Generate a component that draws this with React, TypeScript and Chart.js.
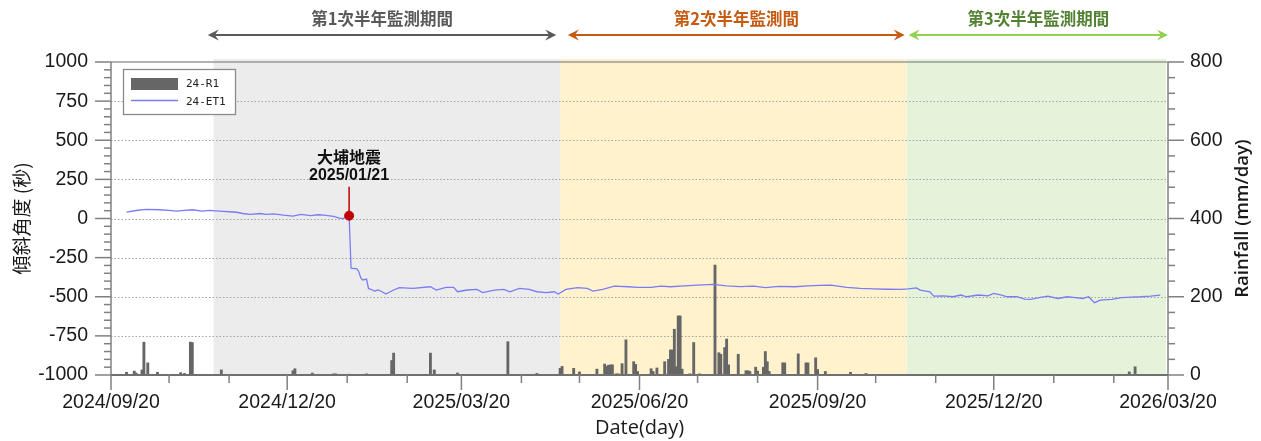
import React, { useEffect, useRef } from 'react';
import { Chart, registerables } from 'chart.js';
Chart.register(...registerables);

const W = 1261;
const H = 441;
const DAY_MS = 86400000;
const toDay = (s: string) => {
  const [y, m, d] = s.split(/[-/]/).map(Number);
  return Date.UTC(y, m - 1, d) / DAY_MS;
};

// ---------- axes ----------
const xStart = '2024-09-20';
const xEnd = '2026-03-20';
const xTickLabels = ['2024/09/20', '2024/12/20', '2025/03/20', '2025/06/20', '2025/09/20', '2025/12/20', '2026/03/20'];
const leftTicks = [-1000, -750, -500, -250, 0, 250, 500, 750, 1000];
const rightTicks = [0, 200, 400, 600, 800];
const leftMinorStep = 50;
const rightMinorStep = 40;

// ---------- rainfall 24-R1 (mm/day) ----------
const rainDates = [
  '2024-09-28', '2024-10-02', '2024-10-03', '2024-10-06', '2024-10-07', '2024-10-09', '2024-10-14', '2024-10-26', '2024-10-28', '2024-10-31', '2024-11-01', '2024-11-16', '2024-12-23', '2024-12-24',
  '2025-01-02', '2025-01-13', '2025-01-14', '2025-01-21', '2025-01-30', '2025-02-12', '2025-02-13', '2025-03-04', '2025-03-06', '2025-03-18', '2025-04-13', '2025-04-28',
  '2025-05-10', '2025-05-11', '2025-05-17', '2025-05-20', '2025-05-29', '2025-06-02', '2025-06-03', '2025-06-04', '2025-06-05', '2025-06-06', '2025-06-08', '2025-06-09', '2025-06-11', '2025-06-13', '2025-06-17', '2025-06-18', '2025-06-19', '2025-06-26', '2025-06-27', '2025-06-29',
  '2025-07-03', '2025-07-05', '2025-07-06', '2025-07-07', '2025-07-08', '2025-07-09', '2025-07-10', '2025-07-11', '2025-07-12', '2025-07-16', '2025-07-18', '2025-07-21', '2025-07-29', '2025-07-31',
  '2025-08-01', '2025-08-03', '2025-08-04', '2025-08-05', '2025-08-10', '2025-08-14', '2025-08-15', '2025-08-16', '2025-08-19', '2025-08-20', '2025-08-23', '2025-08-24', '2025-08-25', '2025-08-26',
  '2025-09-02', '2025-09-03', '2025-09-10', '2025-09-14', '2025-09-15', '2025-09-19', '2025-09-20', '2025-09-24', '2025-10-07', '2025-10-15', '2026-01-13', '2026-02-28', '2026-03-03',
];
const rainValues = [
  7, 10, 5, 13, 84, 31, 7, 6, 4, 84, 83, 13, 11, 16,
  5, 3, 3, 2, 3, 37, 56, 56, 13, 5, 85, 4,
  17, 22, 17, 8, 15, 28, 22, 25, 26, 26, 3, 3, 29, 90, 34, 27, 9, 16, 9, 18,
  34, 40, 64, 64, 117, 21, 151, 151, 15, 3, 83, 3, 281, 57,
  53, 70, 92, 26, 53, 11, 11, 9, 20, 10, 20, 60, 34, 9,
  31, 31, 54, 31, 31, 44, 14, 9, 7, 4, 1, 8, 21,
];

// ---------- tilt 24-ET1 (seconds) ----------
const etDates = [
  '2024-09-28', '2024-10-03', '2024-10-08', '2024-10-15', '2024-10-20', '2024-10-24', '2024-10-28', '2024-11-01', '2024-11-06', '2024-11-10', '2024-11-13', '2024-11-17', '2024-11-20', '2024-11-24', '2024-11-27', '2024-12-01', '2024-12-06', '2024-12-09', '2024-12-13', '2024-12-18', '2024-12-23', '2024-12-27',
  '2025-01-01', '2025-01-05', '2025-01-08', '2025-01-13', '2025-01-16', '2025-01-18', '2025-01-21', '2025-01-22', '2025-01-25', '2025-01-26', '2025-01-27', '2025-01-28', '2025-01-30', '2025-01-31', '2025-02-02', '2025-02-03', '2025-02-05', '2025-02-07', '2025-02-09', '2025-02-13', '2025-02-16', '2025-02-23',
  '2025-03-04', '2025-03-07', '2025-03-12', '2025-03-16', '2025-03-18', '2025-03-23', '2025-03-28', '2025-03-31', '2025-04-06', '2025-04-11', '2025-04-14', '2025-04-19', '2025-04-24', '2025-04-28', '2025-05-03', '2025-05-07', '2025-05-09', '2025-05-13', '2025-05-19', '2025-05-24', '2025-05-27',
  '2025-06-01', '2025-06-07', '2025-06-14', '2025-06-19', '2025-06-26', '2025-07-01', '2025-07-06', '2025-07-13', '2025-07-20', '2025-07-28', '2025-08-04', '2025-08-11', '2025-08-18', '2025-08-24', '2025-08-31', '2025-09-08', '2025-09-15', '2025-09-21', '2025-09-27',
  '2025-10-05', '2025-10-12', '2025-10-19', '2025-10-26', '2025-11-02', '2025-11-06', '2025-11-10', '2025-11-12', '2025-11-17', '2025-11-19', '2025-11-24', '2025-11-29', '2025-12-03', '2025-12-06', '2025-12-12', '2025-12-17', '2025-12-20', '2025-12-24', '2025-12-27',
  '2026-01-01', '2026-01-05', '2026-01-08', '2026-01-13', '2026-01-17', '2026-01-22', '2026-01-27', '2026-01-30', '2026-02-04', '2026-02-07', '2026-02-10', '2026-02-13', '2026-02-19', '2026-02-24', '2026-03-01', '2026-03-06', '2026-03-11', '2026-03-16',
];
const etValues = [
  41, 51, 58, 56, 52, 47, 52, 56, 47, 52, 49, 46, 43, 40, 32, 26, 32, 27, 30, 21, 15, 26,
  19, 24, 21, 13, 2, 0, 18, -318, -322, -340, -378, -393, -387, -447, -457, -464, -457, -468, -483, -457, -442, -447,
  -436, -457, -440, -440, -468, -457, -453, -474, -457, -453, -468, -447, -453, -468, -474, -468, -483, -453, -442, -447, -464,
  -453, -432, -436, -440, -440, -432, -436, -430, -426, -421, -430, -435, -432, -442, -434, -436, -430, -427, -426,
  -440, -447, -450, -452, -453, -450, -443, -458, -468, -496, -494, -500, -489, -500, -489, -494, -479, -489, -500,
  -500, -515, -517, -504, -496, -511, -500, -504, -511, -500, -538, -521, -517, -506, -502, -500, -496, -489,
];

// ---------- monitoring periods ----------
const periodNames = ['第1次半年監測期間', '第2次半年監測間', '第3次半年監測期間'];
const periodStarts = ['2024-11-12', '2025-05-10', '2025-11-05'];
const periodEnds = ['2025-05-10', '2025-11-05', '2026-03-19'];
const arrowStarts = ['2024-11-09', '2025-05-14', '2025-11-06'];
const arrowEnds = ['2025-05-08', '2025-11-04', '2026-03-20'];
const periodFill = ['#ececec', '#fff2cc', '#e6f3db'];
const arrowColors = ['#595959', '#c55a11', '#92d050'];
const labelColors = ['#595959', '#c55a11', '#548235'];

// ---------- earthquake ----------
const quakeName = '大埔地震';
const quakeDate = '2025-01-21';
const quakeValue = 18;

const seriesNames = ['24-R1', '24-ET1'];
const barColor = '#666666';
const lineColor = '#7b7bf6';
const quakeColor = '#c00000';

const SANS = '"Liberation Sans", Arial, sans-serif';
const CJK = '"Noto Sans CJK TC", "Noto Sans CJK SC", sans-serif';

const pad2 = (n: number) => String(n).padStart(2, '0');

function line(ctx: CanvasRenderingContext2D, x1: number, y1: number, x2: number, y2: number) {
  ctx.beginPath();
  ctx.moveTo(x1, y1);
  ctx.lineTo(x2, y2);
  ctx.stroke();
}

function arrowHead(ctx: CanvasRenderingContext2D, tx: number, ty: number, dir: number) {
  ctx.beginPath();
  ctx.moveTo(tx, ty);
  ctx.lineTo(tx - dir * 11, ty - 5.5);
  ctx.lineTo(tx - dir * 7, ty);
  ctx.lineTo(tx - dir * 11, ty + 5.5);
  ctx.closePath();
  ctx.fill();
}

const customPlugin = {
  id: 'customDraw',
  beforeDatasetsDraw(chart: any) {
    const { ctx, chartArea: a, scales } = chart;
    const x = scales.x;
    const y = scales.y;
    ctx.save();
    periodStarts.forEach((s, i) => {
      const x1 = x.getPixelForValue(toDay(s));
      const x2 = x.getPixelForValue(toDay(periodEnds[i]));
      ctx.fillStyle = periodFill[i];
      ctx.fillRect(x1, a.top - 3, x2 - x1, a.bottom - a.top + 3);
    });
    ctx.strokeStyle = '#a3a3a3';
    ctx.lineWidth = 1;
    ctx.setLineDash([1.5, 2]);
    leftTicks.forEach((v) => {
      if (v === leftTicks[0] || v === leftTicks[leftTicks.length - 1]) return;
      const py = Math.round(y.getPixelForValue(v)) + 0.5;
      line(ctx, a.left, py, a.right, py);
    });
    ctx.restore();
  },
  afterDatasetsDraw(chart: any) {
    const { ctx, chartArea: a, scales } = chart;
    const x = scales.x;
    const y = scales.y;
    const y1 = scales.y1;
    ctx.save();
    ctx.setLineDash([]);

    // frame
    ctx.strokeStyle = '#9a9a9a';
    ctx.lineWidth = 1.5;
    line(ctx, a.left, a.top, a.right, a.top);
    ctx.strokeStyle = '#808080';
    line(ctx, a.left, a.top, a.left, a.bottom);
    line(ctx, a.right, a.top, a.right, a.bottom);
    ctx.strokeStyle = '#707070';
    ctx.lineWidth = 2;
    line(ctx, a.left, a.bottom, a.right, a.bottom);

    // left ticks
    ctx.strokeStyle = '#808080';
    ctx.lineWidth = 1.5;
    const lMin = leftTicks[0], lMax = leftTicks[leftTicks.length - 1];
    for (let v = lMin; v <= lMax; v += leftMinorStep) {
      const py = y.getPixelForValue(v);
      const len = leftTicks.includes(v) ? 16 : 7;
      line(ctx, a.left - len, py, a.left, py);
    }
    const rMax = rightTicks[rightTicks.length - 1];
    for (let v = rightTicks[0]; v <= rMax; v += rightMinorStep) {
      const py = y1.getPixelForValue(v);
      const len = rightTicks.includes(v) ? 16 : 7;
      line(ctx, a.right, py, a.right + len, py);
    }
    // x ticks (monthly on the 20th)
    const [sy, sm, sd] = xStart.split('-').map(Number);
    const endDay = toDay(xEnd);
    for (let k = 0; ; k++) {
      const d = Date.UTC(sy, sm - 1 + k, sd) / DAY_MS;
      if (d > endDay) break;
      const dt = new Date(d * DAY_MS);
      const lbl = `${dt.getUTCFullYear()}/${pad2(dt.getUTCMonth() + 1)}/${pad2(dt.getUTCDate())}`;
      const len = xTickLabels.includes(lbl) ? 15 : 8;
      const px = x.getPixelForValue(d);
      line(ctx, px, a.bottom, px, a.bottom + len);
    }

    // tick labels
    ctx.fillStyle = '#1a1a1a';
    ctx.font = `19.5px ${SANS}`;
    ctx.textBaseline = 'middle';
    ctx.textAlign = 'center';
    xTickLabels.forEach((l) => {
      ctx.fillText(l, x.getPixelForValue(toDay(l)), a.bottom + 28);
    });
    ctx.textAlign = 'right';
    leftTicks.forEach((v) => ctx.fillText(String(v), a.left - 23, y.getPixelForValue(v)));
    ctx.textAlign = 'left';
    rightTicks.forEach((v) => ctx.fillText(String(v), a.right + 22, y1.getPixelForValue(v)));

    // axis titles
    const cy = (a.top + a.bottom) / 2;
    ctx.textAlign = 'center';
    ctx.fillStyle = '#1a1a1a';
    ctx.save();
    ctx.translate(22, cy);
    ctx.rotate(-Math.PI / 2);
    ctx.font = `19px ${CJK}`;
    ctx.fillText('傾斜角度 (秒)', 0, 0);
    ctx.restore();
    ctx.save();
    ctx.translate(1243, cy);
    ctx.rotate(-Math.PI / 2);
    ctx.font = `600 18.5px "Open Sans", sans-serif`;
    ctx.fillText('Rainfall (mm/day)', 0, 0);
    ctx.restore();
    ctx.font = `20px "Open Sans", sans-serif`;
    ctx.fillText('Date(day)', (a.left + a.right) / 2, a.bottom + 53);

    // earthquake annotation
    const qx = x.getPixelForValue(toDay(quakeDate));
    const qy = y.getPixelForValue(quakeValue);
    ctx.strokeStyle = quakeColor;
    ctx.lineWidth = 1.5;
    line(ctx, qx, qy - 3, qx, qy - 29);
    ctx.fillStyle = '#111';
    ctx.font = `bold 16px ${CJK}`;
    ctx.fillText(quakeName, qx, qy - 59);
    ctx.font = `bold 16px ${SANS}`;
    const qd = new Date(toDay(quakeDate) * DAY_MS);
    ctx.fillText(`${qd.getUTCFullYear()}/${pad2(qd.getUTCMonth() + 1)}/${pad2(qd.getUTCDate())}`, qx, qy - 40);

    // period arrows
    const ay = 35;
    periodNames.forEach((name, i) => {
      const x1 = x.getPixelForValue(toDay(arrowStarts[i]));
      const x2 = x.getPixelForValue(toDay(arrowEnds[i]));
      ctx.strokeStyle = arrowColors[i];
      ctx.fillStyle = arrowColors[i];
      ctx.lineWidth = 2;
      line(ctx, x1 + 7, ay, x2 - 7, ay);
      arrowHead(ctx, x1, ay, -1);
      arrowHead(ctx, x2, ay, 1);
      ctx.fillStyle = labelColors[i];
      ctx.font = `bold 16.5px ${CJK}`;
      ctx.textAlign = 'center';
      ctx.fillText(name, (x1 + x2) / 2, 19);
    });

    // legend
    const lx = a.left + 12;
    const ly = a.top + 7;
    ctx.fillStyle = '#ffffff';
    ctx.fillRect(lx, ly, 113, 46);
    ctx.strokeStyle = '#8a8a8a';
    ctx.lineWidth = 1.3;
    ctx.strokeRect(lx + 0.5, ly + 0.5, 112, 45);
    ctx.fillStyle = barColor;
    ctx.fillRect(lx + 8, ly + 9, 47, 12);
    ctx.strokeStyle = lineColor;
    ctx.lineWidth = 1.3;
    line(ctx, lx + 8, ly + 31.5, lx + 55, ly + 31.5);
    ctx.fillStyle = '#222';
    ctx.font = `11px "DejaVu Sans Mono", monospace`;
    ctx.textAlign = 'left';
    ctx.fillText(seriesNames[0], lx + 63, ly + 15.5);
    ctx.fillText(seriesNames[1], lx + 63, ly + 33);

    ctx.restore();
  },
};

export default function App() {
  const ref = useRef<HTMLCanvasElement | null>(null);
  useEffect(() => {
    if (!ref.current) return;
    const chart = new Chart(ref.current, {
      type: 'bar',
      data: {
        datasets: [
          {
            type: 'line',
            label: 'quake',
            data: [{ x: toDay(quakeDate), y: quakeValue }],
            yAxisID: 'y',
            showLine: false,
            pointRadius: 4.5,
            pointBackgroundColor: quakeColor,
            pointBorderColor: quakeColor,
            borderColor: quakeColor,
            order: 0,
          } as any,
          {
            type: 'line',
            label: seriesNames[1],
            data: etDates.map((d, i) => ({ x: toDay(d), y: etValues[i] })),
            yAxisID: 'y',
            borderColor: lineColor,
            borderWidth: 1.3,
            pointRadius: 0,
            tension: 0,
            fill: false,
            order: 1,
          } as any,
          {
            type: 'bar',
            label: seriesNames[0],
            data: rainDates.map((d, i) => ({ x: toDay(d), y: rainValues[i] })),
            yAxisID: 'y1',
            backgroundColor: barColor,
            borderWidth: 0,
            barThickness: 2.2,
            order: 2,
          } as any,
        ],
      },
      options: {
        responsive: false,
        animation: false,
        events: [],
        layout: { padding: { top: 62, left: 0, right: 0, bottom: 0 } },
        plugins: { legend: { display: false }, tooltip: { enabled: false } },
        scales: {
          x: {
            type: 'linear',
            min: toDay(xStart),
            max: toDay(xEnd),
            offset: false,
            grid: { display: false, drawTicks: false },
            border: { display: false },
            ticks: { display: false },
            afterFit: (s: any) => { s.height = 66; },
          },
          y: {
            type: 'linear',
            position: 'left',
            min: leftTicks[0],
            max: leftTicks[leftTicks.length - 1],
            grid: { display: false, drawTicks: false },
            border: { display: false },
            ticks: { display: false },
            afterFit: (s: any) => { s.width = 111; },
          },
          y1: {
            type: 'linear',
            position: 'right',
            min: rightTicks[0],
            max: rightTicks[rightTicks.length - 1],
            grid: { display: false, drawTicks: false },
            border: { display: false },
            ticks: { display: false },
            afterFit: (s: any) => { s.width = W - 1168; },
          },
        },
      } as any,
      plugins: [customPlugin],
    });
    return () => chart.destroy();
  }, []);
  return (
    <div style={{ position: 'fixed', left: 0, top: 0, width: W, height: H, background: '#fff' }}>
      <canvas ref={ref} width={W} height={H} style={{ display: 'block', width: W, height: H }} />
    </div>
  );
}
